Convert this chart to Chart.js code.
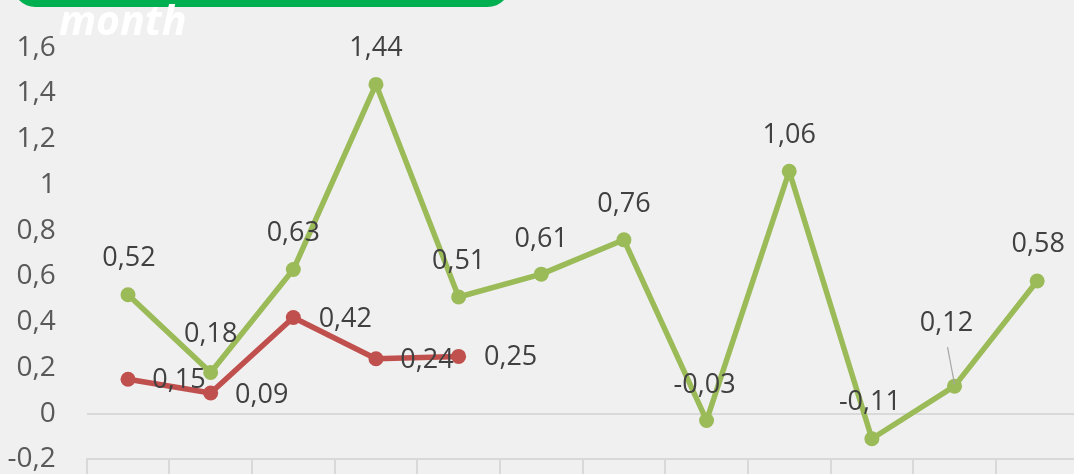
<!DOCTYPE html>
<html>
<head>
<meta charset="utf-8">
<script src="https://cdn.jsdelivr.net/npm/chart.js@4.4.1/dist/chart.umd.min.js"></script>
<style>
  html, body { margin: 0; padding: 0; background: #f0f0f0; overflow: hidden; }
  #wrap { position: relative; width: 1074px; height: 474px; overflow: hidden; }
  #chart { position: absolute; left: 0; top: 0; }
  #banner {
    position: absolute; left: 12px; top: -40px; width: 499px; height: 47px;
    background: #00b050; border-radius: 24px;
  }
  #title {
    position: absolute; left: 59px; top: -19px; margin: 0;
    font: italic bold 41px "Open Sans", sans-serif; color: #ffffff; line-height: 76px;
  }
</style>
</head>
<body>
<div id="wrap">
  <canvas id="chart" width="1090" height="520"></canvas>
  <div id="banner"></div>
  <div id="title">month</div>
</div>
<script>
const months = ['Jan', 'Feb', 'Mar', 'Apr', 'May', 'Jun', 'Jul', 'Aug', 'Sep', 'Oct', 'Nov', 'Dec'];
const greenValues = [0.52, 0.18, 0.63, 1.44, 0.51, 0.61, 0.76, -0.03, 1.06, -0.11, 0.12, 0.58];
const redValues = [0.15, 0.09, 0.42, 0.24, 0.25];
const yTicks = [-0.2, 0, 0.2, 0.4, 0.6, 0.8, 1, 1.2, 1.4, 1.6];

const GREEN = '#9bbb59';
const RED = '#c0504d';
const FONT = '"Open Sans", sans-serif';

const fmt = (v) => String(Math.round(v * 100) / 100).replace('.', ',');

// where each value label sits relative to its point
const labelOffsets = [
  [[1, -36], [0, -38], [0, -36], [0, -36], [0, -36], [0, -35], [0, -36], [-2, -35], [0, -36], [-2, -36], [-8, -63], [1, -37]],
  [[51, 1], [51, 2], [52, 2], [51, 2], [52, 1]]
];

const valueLabels = {
  id: 'valueLabels',
  afterDatasetsDraw(chart) {
    const ctx = chart.ctx;
    ctx.save();
    ctx.font = '27px ' + FONT;
    ctx.fillStyle = '#404040';
    ctx.textAlign = 'center';
    ctx.textBaseline = 'middle';
    chart.data.datasets.forEach((ds, di) => {
      const meta = chart.getDatasetMeta(di);
      meta.data.forEach((pt, i) => {
        const off = labelOffsets[di][i];
        const lx = pt.x + off[0];
        const ly = pt.y + off[1];
        if (di === 0 && i === 10) {
          // leader line back to the point
          ctx.strokeStyle = '#a6a6a6';
          ctx.lineWidth = 1.2;
          ctx.beginPath();
          ctx.moveTo(lx + 1, ly + 24);
          ctx.lineTo(pt.x, pt.y - 2);
          ctx.stroke();
        }
        ctx.fillText(fmt(ds.data[i]), lx, ly);
      });
    });
    ctx.restore();
  }
};

new Chart(document.getElementById('chart'), {
  type: 'line',
  data: {
    labels: months,
    datasets: [
      {
        data: greenValues,
        borderColor: GREEN,
        backgroundColor: GREEN,
        borderWidth: 5.5,
        pointRadius: 7.5,
        pointBorderWidth: 0,
        pointBackgroundColor: GREEN,
        borderJoinStyle: 'round',
        tension: 0,
        order: 1,
      },
      {
        data: redValues,
        borderColor: RED,
        backgroundColor: RED,
        borderWidth: 5.5,
        pointRadius: 7.5,
        pointBorderWidth: 0,
        pointBackgroundColor: RED,
        borderJoinStyle: 'round',
        tension: 0,
        order: 0,
      },
    ],
  },
  options: {
    responsive: false,
    animation: false,
    events: [],
    layout: { padding: { top: 45.3, right: 11.5, bottom: 0, left: 0 } },
    plugins: {
      legend: { display: false },
      tooltip: { enabled: false },
    },
    scales: {
      x: {
        type: 'category',
        offset: true,
        afterFit: (scale) => { scale.height = 520 - 459.3; },
        grid: {
          offset: true,
          drawOnChartArea: false,
          drawTicks: true,
          tickLength: 18,
          color: '#d9d9d9',
          lineWidth: 2,
        },
        border: { color: '#d9d9d9', width: 2 },
        ticks: { color: '#595959', font: { size: 28, family: FONT }, padding: 2, maxRotation: 0 },
      },
      y: {
        min: yTicks[0],
        max: yTicks[yTicks.length - 1],
        afterFit: (scale) => { scale.width = 86.7; },
        afterBuildTicks: (scale) => { scale.ticks = yTicks.map((v) => ({ value: v })); },
        grid: {
          drawTicks: false,
          color: (c) => (c.tick && c.tick.value === 0 ? '#d9d9d9' : 'rgba(0,0,0,0)'),
          lineWidth: 2,
        },
        border: { display: false },
        ticks: {
          color: '#595959',
          font: { size: 28, family: FONT },
          padding: 31,
          callback: (v) => fmt(v),
        },
      },
    },
  },
  plugins: [valueLabels],
});
</script>
</body>
</html>
